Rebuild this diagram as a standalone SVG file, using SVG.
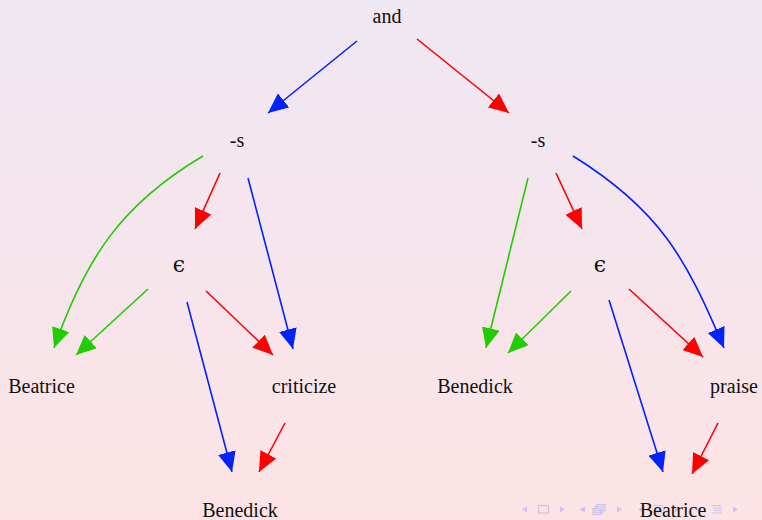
<svg xmlns="http://www.w3.org/2000/svg" width="762" height="520" viewBox="0 0 762 520">
<defs>
<linearGradient id="bg" x1="0" y1="0" x2="0" y2="1">
<stop offset="0" stop-color="#efe7f3"/>
<stop offset="1" stop-color="#fde3e5"/>
</linearGradient>
<marker id="hb" markerUnits="userSpaceOnUse" markerWidth="21" markerHeight="18" refX="20" refY="9" orient="auto" viewBox="0 0 21 18"><path d="M0,0 L20,9 L0,18 z" fill="#0022ff"/></marker>
<marker id="hr" markerUnits="userSpaceOnUse" markerWidth="21" markerHeight="18" refX="20" refY="9" orient="auto" viewBox="0 0 21 18"><path d="M0,0 L20,9 L0,18 z" fill="#ff0000"/></marker>
<marker id="hg" markerUnits="userSpaceOnUse" markerWidth="21" markerHeight="18" refX="20" refY="9" orient="auto" viewBox="0 0 21 18"><path d="M0,0 L20,9 L0,18 z" fill="#22cc00"/></marker>
</defs>
<style>
text{font-family:"Liberation Serif","DejaVu Serif",serif;font-size:20px;fill:#111;text-anchor:middle}
.eps{font-family:"DejaVu Serif","Liberation Serif",serif;font-size:22px}
.c{fill:none;stroke-width:1.6}
.b{stroke:#0022ff;marker-end:url(#hb)}
.r{stroke:#ff0000;marker-end:url(#hr)}
.g{stroke:#22cc00;marker-end:url(#hg)}
.nav{fill:#cbc3ea;stroke:none}
.navs{fill:none;stroke:#cbc3ea;stroke-width:1.2}
</style>
<rect x="0" y="0" width="762" height="520" fill="url(#bg)"/>
<g id="connectors">
<path class="c b" d="M357,41 L268,113"/>
<path class="c r" d="M417,39 L509,113"/>
<path class="c g" d="M203,156 C120,205 85,260 54,348"/>
<path class="c r" d="M220,173 L195,229"/>
<path class="c b" d="M248,178 L293,349"/>
<path class="c g" d="M148,289 L76,355"/>
<path class="c b" d="M187,302 L232,472"/>
<path class="c r" d="M206,291 L273,355"/>
<path class="c r" d="M285,423 L259,472"/>
<path class="c g" d="M528,178 L486,348"/>
<path class="c r" d="M556,173 L582,229"/>
<path class="c b" d="M573,156 C660,210 686,258 724,348"/>
<path class="c g" d="M571,291 L508,353"/>
<path class="c b" d="M609,300 L663,472"/>
<path class="c r" d="M629,289 L703,357"/>
<path class="c r" d="M718,423 L692,474"/>
</g>
<g id="navigation">
<path class="nav" d="M522,509.5 L527,506.5 L527,512.5 z"/>
<rect class="navs" x="538.5" y="505.5" width="10" height="7.5"/>
<path class="nav" d="M565,509.5 L560,506.5 L560,512.5 z"/>
<path class="nav" d="M580,509.5 L585,506.5 L585,512.5 z"/>
<rect class="navs" x="597" y="504.5" width="8" height="6"/>
<rect class="navs" x="595" y="506.5" width="8" height="6" fill="#fde3e5"/>
<rect class="navs" x="593" y="508.5" width="8" height="6" fill="#fde3e5"/>
<path class="nav" d="M622,509.5 L617,506.5 L617,512.5 z"/>
<path class="nav" d="M638,509.5 L643,506.5 L643,512.5 z"/>
<path class="navs" d="M654,505.5 h9 M655,508 h9 M656,510.5 h8 M654,513 h10"/>
<path class="nav" d="M680,509.5 L675,506.5 L675,512.5 z"/>
<path class="nav" d="M696,509.5 L701,506.5 L701,512.5 z"/>
<path class="navs" d="M712,505.5 h9 M713,508 h9 M714,510.5 h8 M712,513 h10"/>
<path class="nav" d="M738,509.5 L733,506.5 L733,512.5 z"/>
</g>
<g id="n-and"><text x="387" y="23">and</text></g>
<g id="n-s1"><text x="237" y="147">-s</text></g>
<g id="n-s2"><text x="538" y="147">-s</text></g>
<g id="n-eps1"><text class="eps" x="179" y="272">ϵ</text></g>
<g id="n-eps2"><text class="eps" x="600" y="272">ϵ</text></g>
<g id="n-beatrice1"><text x="41.5" y="393">Beatrice</text></g>
<g id="n-criticize"><text x="304" y="393">criticize</text></g>
<g id="n-benedick1"><text x="475" y="393">Benedick</text></g>
<g id="n-praise"><text x="734" y="393">praise</text></g>
<g id="n-benedick2"><text x="240" y="517">Benedick</text></g>
<g id="n-beatrice2"><text x="673" y="517">Beatrice</text></g>
</svg>
